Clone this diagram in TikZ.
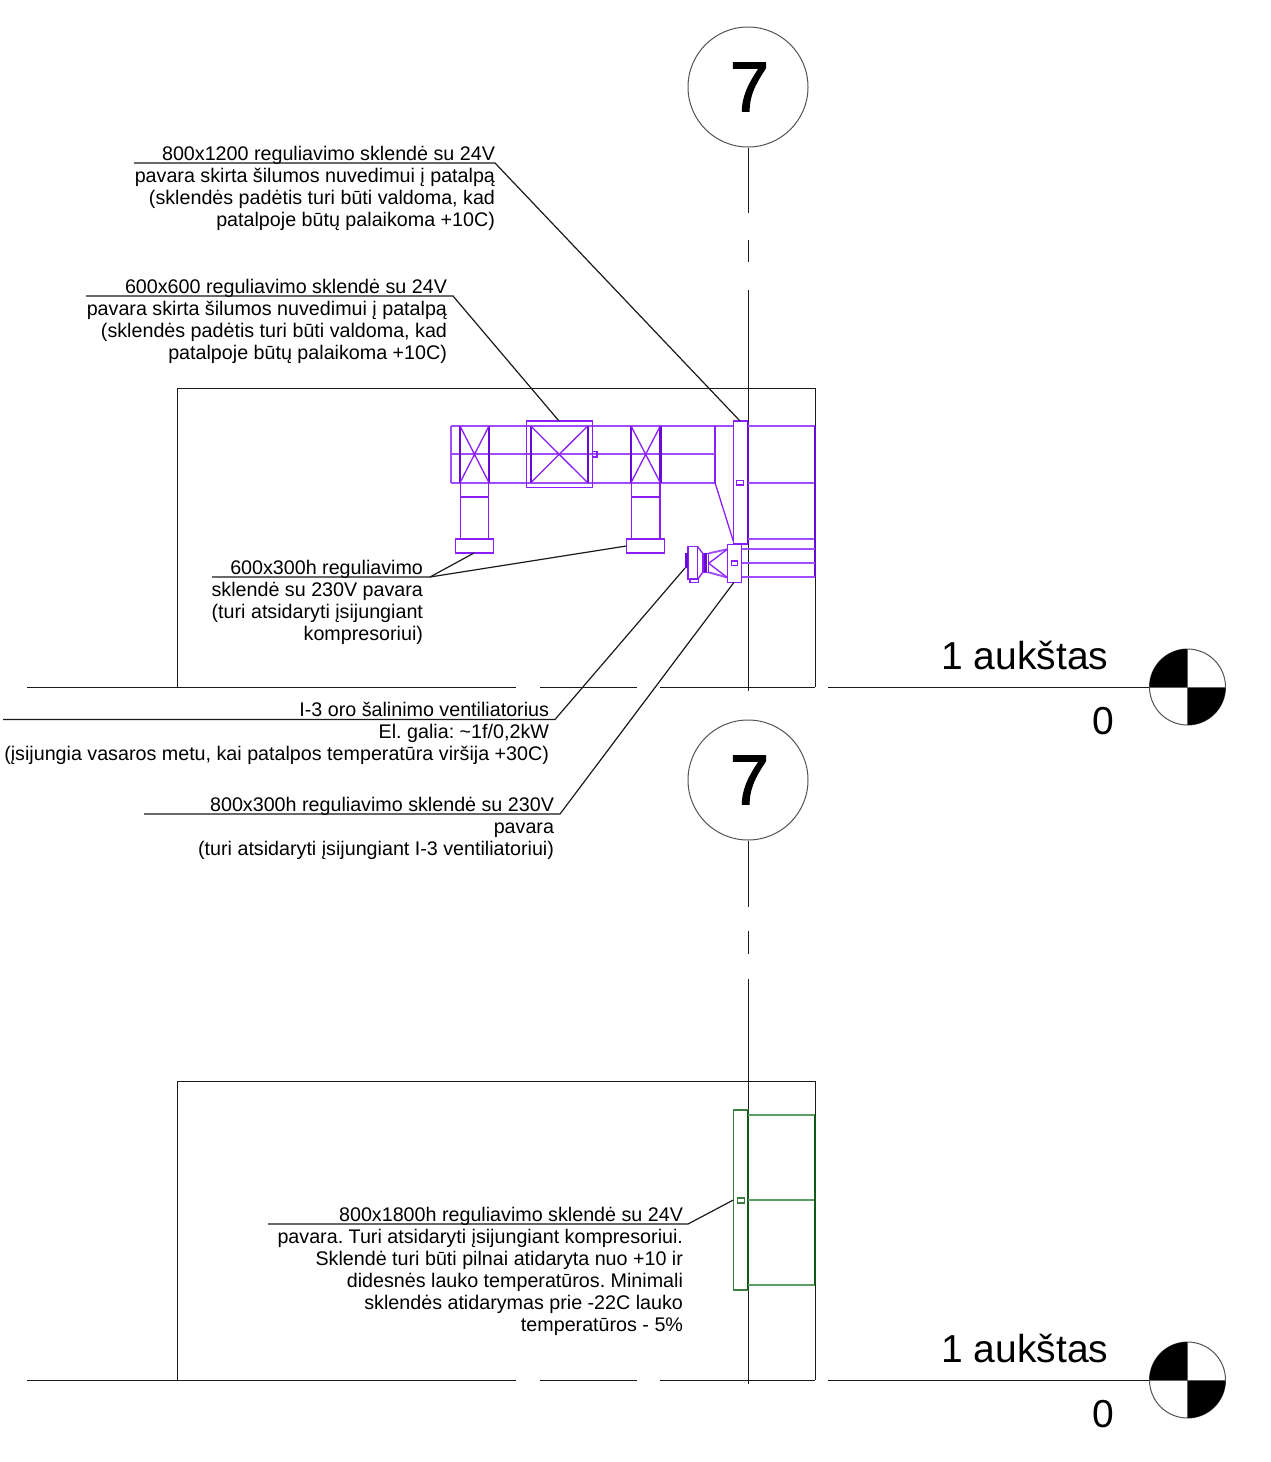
\documentclass[tikz,border=0pt]{standalone}
\usepackage{fontspec}
\setmainfont{Liberation Sans}
\newfontfamily\heavyfont[FakeBold=2]{Liberation Sans}
\definecolor{duct}{HTML}{A04DFF}
\definecolor{ductmid}{HTML}{8A1EFF}
\definecolor{ductdark}{HTML}{6A0AD8}
\definecolor{grn}{HTML}{3A7F42}
\definecolor{grnlight}{HTML}{5E9C66}
\definecolor{grndark}{HTML}{0F5A18}
\definecolor{ink}{HTML}{1A1A1A}
\tikzset{
  wall/.style={draw=ink,line width=1pt},
  leader/.style={draw=ink,line width=1.2pt},
  pl/.style={draw=duct,line width=1.9pt},
  plthin/.style={draw=ductmid,line width=1.3pt},
  plthick/.style={draw=ductdark,line width=2.4pt},
  gl/.style={draw=grn,line width=1.6pt},
  note/.style={inner sep=0pt,outer sep=0pt,align=right,anchor=north east,font=\frenchspacing\fontsize{19.7}{22.1}\selectfont,text=black},
  axisbubble/.style={circle,draw=ink!75,line width=1pt,minimum size=120pt,inner sep=0pt,font=\heavyfont\fontsize{70}{70}\selectfont},
  lvl/.style={inner sep=0pt,anchor=base east,font=\fontsize{39}{39}\selectfont,text=black}
}
\begin{document}
\begin{tikzpicture}[x=1pt,y=-1pt]
\useasboundingbox (0,0) rectangle (1271,1462);
\fill[white] (0,0) rectangle (1271,1462);

% ---- upper plan: walls and grid
\draw[wall] (177,687) -- (177,388.5) -- (815,388.5) -- (815,687);
\draw[wall] (27,687) -- (516,687) (540,687) -- (637,687) (660,687) -- (815,687) (828,687) -- (1150,687);
\node[axisbubble] (axisA) at (748,87) {\hspace*{3pt}7};
\draw[wall] (axisA.south) -- (748,213) (748,240) -- (748,262) (748,290) -- (748,691);

% ---- lower plan: walls and grid
\draw[wall] (177,1380) -- (177,1081.5) -- (815,1081.5) -- (815,1380);
\draw[wall] (27,1380) -- (516,1380) (540,1380) -- (637,1380) (660,1380) -- (815,1380) (828,1380) -- (1150,1380);
\node[axisbubble] (axisB) at (748,780) {\hspace*{3pt}7};
\draw[wall] (axisB.south) -- (748,907) (748,931) -- (748,954) (748,979) -- (748,1384);

% ---- level markers
\foreach \cy/\nm in {687/lvA,1380/lvB}{
  \node[circle,draw=ink!75,line width=1pt,minimum size=76pt,inner sep=0pt] (\nm) at (1187.5,\cy) {};
  \fill[black] (1187.5,\cy) -- (1149.5,\cy) arc[start angle=180,end angle=90,radius=38pt] -- cycle;
  \fill[black] (1187.5,\cy) -- (1225.5,\cy) arc[start angle=0,end angle=-90,radius=38pt] -- cycle;
  \draw[wall,draw=ink!70] (1149.5,\cy) -- (1225.5,\cy) (1187.5,\cy-38) -- (1187.5,\cy+38);
}
\node[lvl] (lvtA) at (1108.5,669) {1 aukštas};
\node[lvl] (lv0A) at (1114,734.5) {0};
\node[lvl] (lvtB) at (1108.5,1362) {1 aukštas};
\node[lvl] (lv0B) at (1114,1427.5) {0};

% ---- purple duct run
\draw[pl] (451,426) -- (733,426) (451,482.7) -- (715,482.7) (451,426) -- (451,482.7);
\draw[plthin] (715,426) -- (715,482.7);
\draw[pl] (451,454.3) -- (715,454.3);
\draw[plthin] (715,482.7) -- (733.3,541);
% damper 1
\draw[plthick] (460,426) -- (460,482.7) (489,426) -- (489,482.7);
\draw[plthin] (460,426) -- (489,482.7) (489,426) -- (460,482.7);
% large damper
\draw[plthin] (526.3,421) rectangle (592.7,487.7);
\draw[plthick] (530.7,426) -- (530.7,482.7) (587.7,426) -- (587.7,482.7);
\draw[plthin] (530.7,426) -- (587.7,482.7) (587.7,426) -- (530.7,482.7);
\draw[plthin] (592.7,451.7) rectangle (597,457);
% damper 2
\draw[plthick] (631,426) -- (631,482.7) (660.3,426) -- (660.3,482.7);
\draw[plthin] (631,426) -- (660.3,482.7) (660.3,426) -- (631,482.7);
% branches
\draw[plthin] (460.5,482.7) -- (460.5,539) (488.7,482.7) -- (488.7,539) (460.5,497) -- (488.7,497);
\draw[plthin] (455.3,539) rectangle (493.3,553);
\draw[plthin] (631.3,482.7) -- (631.3,539) (660,482.7) -- (660,539) (631.3,497) -- (660,497);
\draw[plthin] (626.3,539) rectangle (664.7,553);
% tall grille
\draw[plthin] (733.3,421) rectangle (747.7,544);
\draw[plthick] (748,421) -- (748,544);
\draw[plthin] (736.7,480.3) rectangle (743.7,485);
\draw[pl] (748,426) -- (815,426) (748,482.7) -- (815,482.7) (748,539.3) -- (815,539.3);
\draw[plthin,draw=ductdark] (815,426) -- (815,577.3);
% lower grille
\draw[plthin] (727.3,544.3) rectangle (741.7,582.3);
\draw[plthin] (731.3,561) rectangle (737.7,565.3);
\draw[pl] (741.7,549) -- (815,549) (741.7,563.3) -- (815,563.3) (741.7,577.3) -- (815,577.3);
% fan
\draw[plthin] (688,546.7) rectangle (697.7,579.3);
\draw[plthick,line width=3pt] (686.5,552.7) -- (686.5,568);
\draw[plthin] (697.7,546.7) -- (702.7,553.3) (697.7,579.3) -- (702.7,572.3);
\draw[plthin] (690,578.7) rectangle (698.3,582.7);
\draw[plthin] (703,553.3) rectangle (708.7,572.3);
\draw[plthick] (705.5,553.3) -- (705.5,572.3);
\draw[pl] (708.7,553.3) -- (727.3,549.3) (708.7,572.3) -- (727.3,577.5);
\draw[plthin] (708.7,563.3) -- (727.3,549.3) (708.7,563.3) -- (727.3,577.5);

% ---- green grille, lower plan
\draw[gl] (733.3,1110) rectangle (748,1290);
\draw[gl,draw=grndark,line width=2pt] (748,1110) -- (748,1290);
\draw[gl,draw=grnlight,line width=1.3pt] (748,1115) -- (815,1115) (748,1200) -- (815,1200) (748,1285) -- (815,1285);
\draw[gl,draw=grndark,line width=1.1pt] (815,1115) -- (815,1285);
\draw[gl,line width=1.4pt] (737.3,1198) rectangle (744.3,1203);

% ---- notes
\node[note] (n1) at (495,146) {800x1200 reguliavimo sklendė su 24V\\pavara skirta šilumos nuvedimui į patalpą\\(sklendės padėtis turi būti valdoma, kad\\patalpoje būtų palaikoma +10C)};
\node[note] (n2) at (447,279) {600x600 reguliavimo sklendė su 24V\\pavara skirta šilumos nuvedimui į patalpą\\(sklendės padėtis turi būti valdoma, kad\\patalpoje būtų palaikoma +10C)};
\node[note] (n3) at (423,560) {600x300h reguliavimo\\sklendė su 230V pavara\\(turi atsidaryti įsijungiant\\kompresoriui)};
\node[note] (n4) at (549,702) {I-3 oro šalinimo ventiliatorius\\El. galia: \textasciitilde1f/0,2kW\\(įsijungia vasaros metu, kai patalpos temperatūra viršija +30C)};
\node[note] (n5) at (554,797) {800x300h reguliavimo sklendė su 230V\\pavara\\(turi atsidaryti įsijungiant I-3 ventiliatoriui)};
\node[note] (n6) at (683,1207) {800x1800h reguliavimo sklendė su 24V\\pavara. Turi atsidaryti įsijungiant kompresoriui.\\Sklendė turi būti pilnai atidaryta nuo +10 ir\\didesnės lauko temperatūros. Minimali\\sklendės atidarymas prie -22C lauko\\temperatūros - 5\%};

% ---- leaders
\coordinate (t1) at (740,421);
\coordinate (t2) at (559,421);
\coordinate (t3a) at (474,553);
\coordinate (t3b) at (626.3,546);
\coordinate (t4) at (685,568);
\coordinate (t5) at (734,582.3);
\coordinate (t6) at (733.3,1200);
\draw[leader] (134,163) -- (495,163) -- (t1);
\draw[leader] (86,296) -- (453,296) -- (t2);
\draw[leader] (212,577) -- (430,577) -- (t3a);
\draw[leader] (430,577) -- (t3b);
\draw[leader] (3,719.5) -- (555,719.5) -- (t4);
\draw[leader] (144,814) -- (560,814) -- (t5);
\draw[leader] (268,1224) -- (688,1224) -- (t6);
\end{tikzpicture}
\end{document}
